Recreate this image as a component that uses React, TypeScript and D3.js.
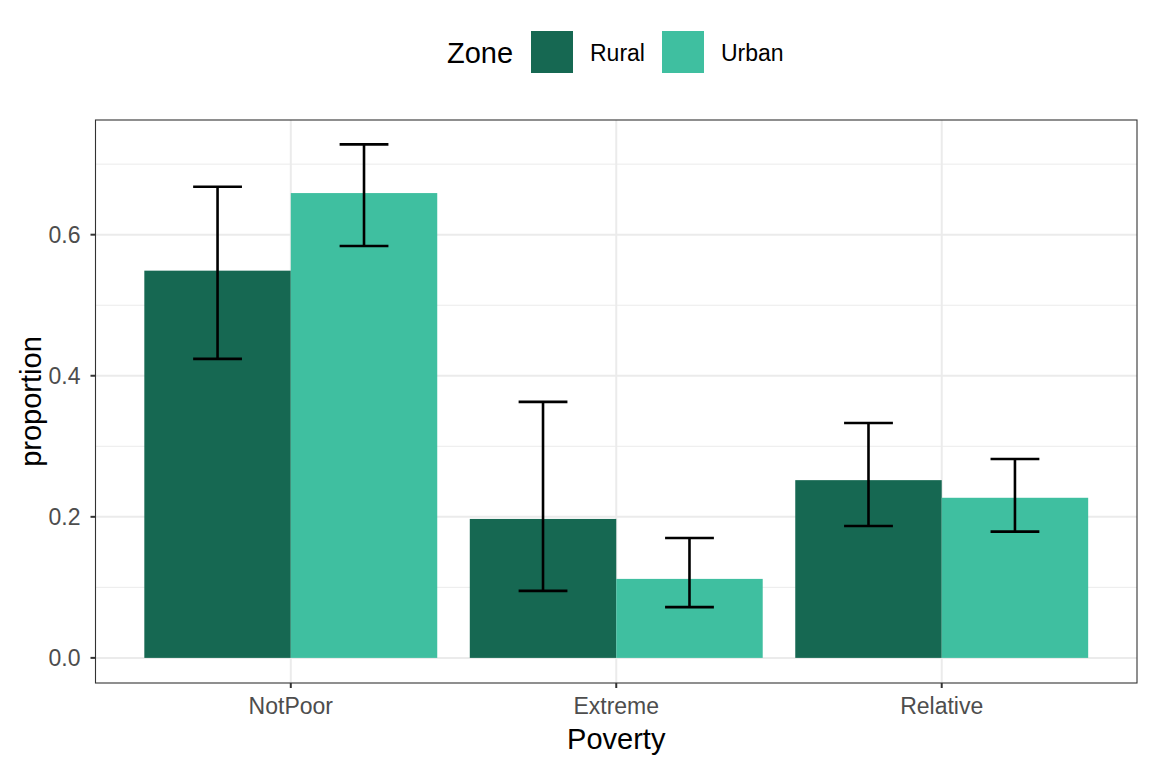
import React, { useEffect, useRef } from 'react';
import * as d3 from 'd3';

const categories = ['NotPoor', 'Extreme', 'Relative'];
const zones = ['Rural', 'Urban'];
const ruralValues = [0.549, 0.197, 0.252];
const urbanValues = [0.659, 0.112, 0.227];
const ruralLower = [0.424, 0.095, 0.187];
const ruralUpper = [0.668, 0.363, 0.333];
const urbanLower = [0.584, 0.072, 0.179];
const urbanUpper = [0.728, 0.170, 0.282];
const yTicks = [0, 0.2, 0.4, 0.6];
const yMinorTicks = [0.1, 0.3, 0.5, 0.7];

const zoneColors = ['#166852', '#3fbfa0'];

const App: React.FC = () => {
  const width = 1152;
  const height = 768;
  const svgRef = useRef<SVGSVGElement>(null);

  useEffect(() => {
    if (!svgRef.current) return;
    const svg = d3.select(svgRef.current);
    svg.selectAll('*').remove();

    const font = 'Liberation Sans, Arial, Helvetica, sans-serif';
    const panel = { left: 95.5, right: 1137, top: 120, bottom: 683 };
    const tickSize = 23;
    const titleSize = 29;

    const y = d3.scaleLinear().domain([-0.0356, 0.7626]).range([panel.bottom, panel.top]);

    // ggplot discrete expansion: 0.6 units on each side
    const unit = (panel.right - panel.left) / (categories.length - 1 + 1.2);
    const x = (i: number) => panel.left + unit * (0.6 + i);
    const barW = unit * 0.45;
    const capW = unit * 0.15;

    const g = svg.append('g');

    // panel background
    g.append('rect')
      .attr('x', panel.left).attr('y', panel.top)
      .attr('width', panel.right - panel.left).attr('height', panel.bottom - panel.top)
      .attr('fill', 'white');

    // grid
    yMinorTicks.forEach(t => {
      g.append('line')
        .attr('x1', panel.left).attr('x2', panel.right)
        .attr('y1', y(t)).attr('y2', y(t))
        .attr('stroke', '#ebebeb').attr('stroke-width', 1);
    });
    yTicks.forEach(t => {
      g.append('line')
        .attr('x1', panel.left).attr('x2', panel.right)
        .attr('y1', y(t)).attr('y2', y(t))
        .attr('stroke', '#ebebeb').attr('stroke-width', 2);
    });
    categories.forEach((_, i) => {
      g.append('line')
        .attr('x1', x(i)).attr('x2', x(i))
        .attr('y1', panel.top).attr('y2', panel.bottom)
        .attr('stroke', '#ebebeb').attr('stroke-width', 2);
    });

    const series = [
      { values: ruralValues, lower: ruralLower, upper: ruralUpper },
      { values: urbanValues, lower: urbanLower, upper: urbanUpper },
    ];

    // bars
    series.forEach((s, si) => {
      s.values.forEach((v, i) => {
        const x0 = x(i) - barW + si * barW;
        g.append('rect')
          .attr('x', x0).attr('y', y(v))
          .attr('width', barW).attr('height', y(0) - y(v))
          .attr('fill', zoneColors[si]);
      });
    });

    // error bars
    series.forEach((s, si) => {
      s.values.forEach((_, i) => {
        const cx = x(i) - barW / 2 + si * barW;
        const lo = y(s.lower[i]);
        const hi = y(s.upper[i]);
        g.append('line')
          .attr('x1', cx).attr('x2', cx).attr('y1', lo).attr('y2', hi)
          .attr('stroke', 'black').attr('stroke-width', 2.6);
        [lo, hi].forEach(yy => {
          g.append('line')
            .attr('x1', cx - capW / 2).attr('x2', cx + capW / 2)
            .attr('y1', yy).attr('y2', yy)
            .attr('stroke', 'black').attr('stroke-width', 2.6);
        });
      });
    });

    // panel border
    g.append('rect')
      .attr('x', panel.left).attr('y', panel.top)
      .attr('width', panel.right - panel.left).attr('height', panel.bottom - panel.top)
      .attr('fill', 'none').attr('stroke', '#333333').attr('stroke-width', 1.1);

    // y axis ticks + labels
    yTicks.forEach(t => {
      g.append('line')
        .attr('x1', panel.left - 5).attr('x2', panel.left)
        .attr('y1', y(t)).attr('y2', y(t))
        .attr('stroke', '#333333').attr('stroke-width', 2);
      g.append('text')
        .attr('x', panel.left - 15).attr('y', y(t))
        .attr('dy', '0.35em')
        .attr('text-anchor', 'end')
        .attr('font-family', font).attr('font-size', tickSize)
        .attr('fill', '#4d4d4d')
        .text(t.toFixed(1));
    });

    // x axis ticks + labels
    categories.forEach((c, i) => {
      g.append('line')
        .attr('x1', x(i)).attr('x2', x(i))
        .attr('y1', panel.bottom).attr('y2', panel.bottom + 5)
        .attr('stroke', '#333333').attr('stroke-width', 2);
      g.append('text')
        .attr('x', x(i)).attr('y', 714)
        .attr('text-anchor', 'middle')
        .attr('font-family', font).attr('font-size', tickSize)
        .attr('fill', '#4d4d4d')
        .text(c);
    });

    // axis titles
    g.append('text')
      .attr('x', (panel.left + panel.right) / 2).attr('y', 749)
      .attr('text-anchor', 'middle')
      .attr('font-family', font).attr('font-size', titleSize)
      .attr('fill', 'black')
      .text('Poverty');

    g.append('text')
      .attr('transform', `translate(41, ${(panel.top + panel.bottom) / 2}) rotate(-90)`)
      .attr('text-anchor', 'middle')
      .attr('font-family', font).attr('font-size', titleSize)
      .attr('fill', 'black')
      .text('proportion');

    // legend
    const legend = svg.append('g');
    legend.append('text')
      .attr('x', 447).attr('y', 53)
      .attr('dy', '0.35em')
      .attr('font-family', font).attr('font-size', titleSize)
      .attr('fill', 'black')
      .text('Zone');
    const keyX = [531, 662];
    zones.forEach((z, i) => {
      legend.append('rect')
        .attr('x', keyX[i]).attr('y', 31)
        .attr('width', 42).attr('height', 42)
        .attr('fill', zoneColors[i]);
      legend.append('text')
        .attr('x', keyX[i] + 59).attr('y', 53)
        .attr('dy', '0.35em')
        .attr('font-family', font).attr('font-size', tickSize)
        .attr('fill', 'black')
        .text(z);
    });
  }, []);

  return (
    <svg
      ref={svgRef}
      width={width}
      height={height}
      style={{ position: 'absolute', left: 0, top: 0, background: 'white' }}
    />
  );
};

export default App;
